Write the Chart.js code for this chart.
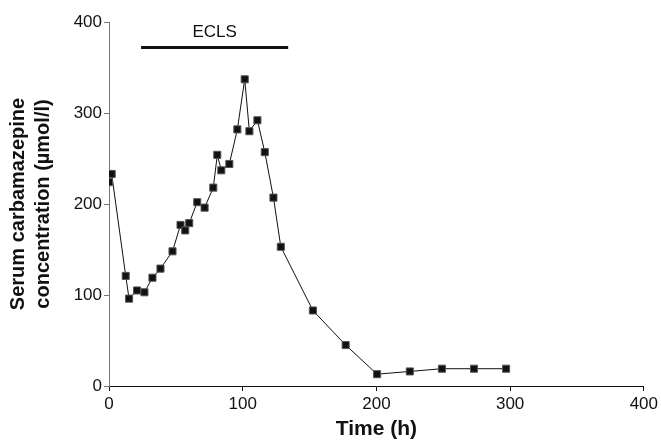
<!DOCTYPE html>
<html>
<head>
<meta charset="utf-8">
<script src="https://cdn.jsdelivr.net/npm/chart.js@4.4.0/dist/chart.umd.min.js"></script>
<style>
  html, body { margin: 0; padding: 0; background: #fff; }
  #wrap { width: 661px; height: 441px; }
</style>
</head>
<body>
<div id="wrap"><canvas id="chart"></canvas></div>
<script>
// Time after admission (h) and serum carbamazepine (umol/l)
const timeHours = [0, 2, 12.5, 15, 21, 26.5, 32.5, 38.5, 47.5, 53.5, 57, 60, 66, 71.5, 78, 81, 84, 90, 96, 101.5, 105, 111, 116.5, 123, 128.5, 152.5, 177, 200.5, 225, 249, 273, 297];
const concentration = [224, 233, 121, 96, 105, 103, 119, 129, 148, 177, 171, 179, 202, 196, 218, 254, 237, 244, 282, 337, 280, 292, 257, 207, 153, 83, 45, 13, 16, 19, 19, 19];

// ECLS period bar
const eclsStart = 24;
const eclsEnd = 134;
const eclsLevel = 372;
const eclsLabel = 'ECLS';

const xTicks = [0, 100, 200, 300, 400];
const yTicks = [0, 100, 200, 300, 400];

const points = timeHours.map((t, i) => ({ x: t, y: concentration[i] }));

// draw the ECLS label above the bar
const eclsText = {
  id: 'eclsText',
  afterDatasetsDraw(chart) {
    const { ctx, scales } = chart;
    const cx = scales.x.getPixelForValue((eclsStart + eclsEnd) / 2);
    const cy = scales.y.getPixelForValue(eclsLevel);
    ctx.save();
    ctx.fillStyle = '#111';
    ctx.font = '17px "Liberation Sans", Arial, sans-serif';
    ctx.textAlign = 'center';
    ctx.textBaseline = 'bottom';
    ctx.fillText(eclsLabel, cx, cy - 7);
    ctx.restore();
  }
};

new Chart(document.getElementById('chart'), {
  type: 'scatter',
  data: {
    datasets: [
      {
        data: points,
        showLine: true,
        borderColor: '#111',
        borderWidth: 1,
        pointStyle: 'rect',
        pointRadius: 5,
        pointBackgroundColor: '#111',
        pointBorderColor: '#555',
        pointBorderWidth: 1
      },
      {
        data: [{ x: eclsStart, y: eclsLevel }, { x: eclsEnd, y: eclsLevel }],
        showLine: true,
        borderColor: '#111',
        borderWidth: 3,
        pointRadius: 0
      }
    ]
  },
  options: {
    responsive: true,
    maintainAspectRatio: false,
    animation: false,
    layout: { padding: { top: 22, right: 17, left: 0, bottom: 0 } },
    plugins: {
      legend: { display: false },
      tooltip: { enabled: false }
    },
    scales: {
      x: {
        type: 'linear',
        min: 0,
        max: 400,
        afterBuildTicks: s => { s.ticks = xTicks.map(v => ({ value: v })); },
        afterFit: s => { s.height = 55; },
        grid: { display: true, drawOnChartArea: false, drawTicks: true, tickLength: 5, color: '#111' },
        border: { color: '#111', width: 1 },
        ticks: {
          color: '#111',
          padding: 3,
          maxRotation: 0,
          font: { family: '"Liberation Sans", Arial, sans-serif', size: 17 }
        },
        title: {
          display: true,
          text: 'Time (h)',
          color: '#111',
          padding: { top: 0, bottom: 0 },
          font: { family: '"Liberation Sans", Arial, sans-serif', size: 21, weight: 'bold', lineHeight: 1.1 }
        }
      },
      y: {
        type: 'linear',
        min: 0,
        max: 400,
        afterBuildTicks: s => { s.ticks = yTicks.map(v => ({ value: v })); },
        afterFit: s => { s.width = 109; },
        grid: { display: true, drawOnChartArea: false, drawTicks: true, tickLength: 5, color: '#777' },
        border: { color: '#777', width: 1 },
        ticks: {
          color: '#111',
          padding: 2,
          font: { family: '"Liberation Sans", Arial, sans-serif', size: 17 }
        },
        title: {
          display: true,
          text: ['Serum carbamazepine', 'concentration (µmol/l)'],
          color: '#111',
          padding: { top: 6, bottom: 0 },
          font: { family: '"Liberation Sans", Arial, sans-serif', size: 20, weight: 'bold', lineHeight: 1.25 }
        }
      }
    }
  },
  plugins: [eclsText]
});
</script>
</body>
</html>
